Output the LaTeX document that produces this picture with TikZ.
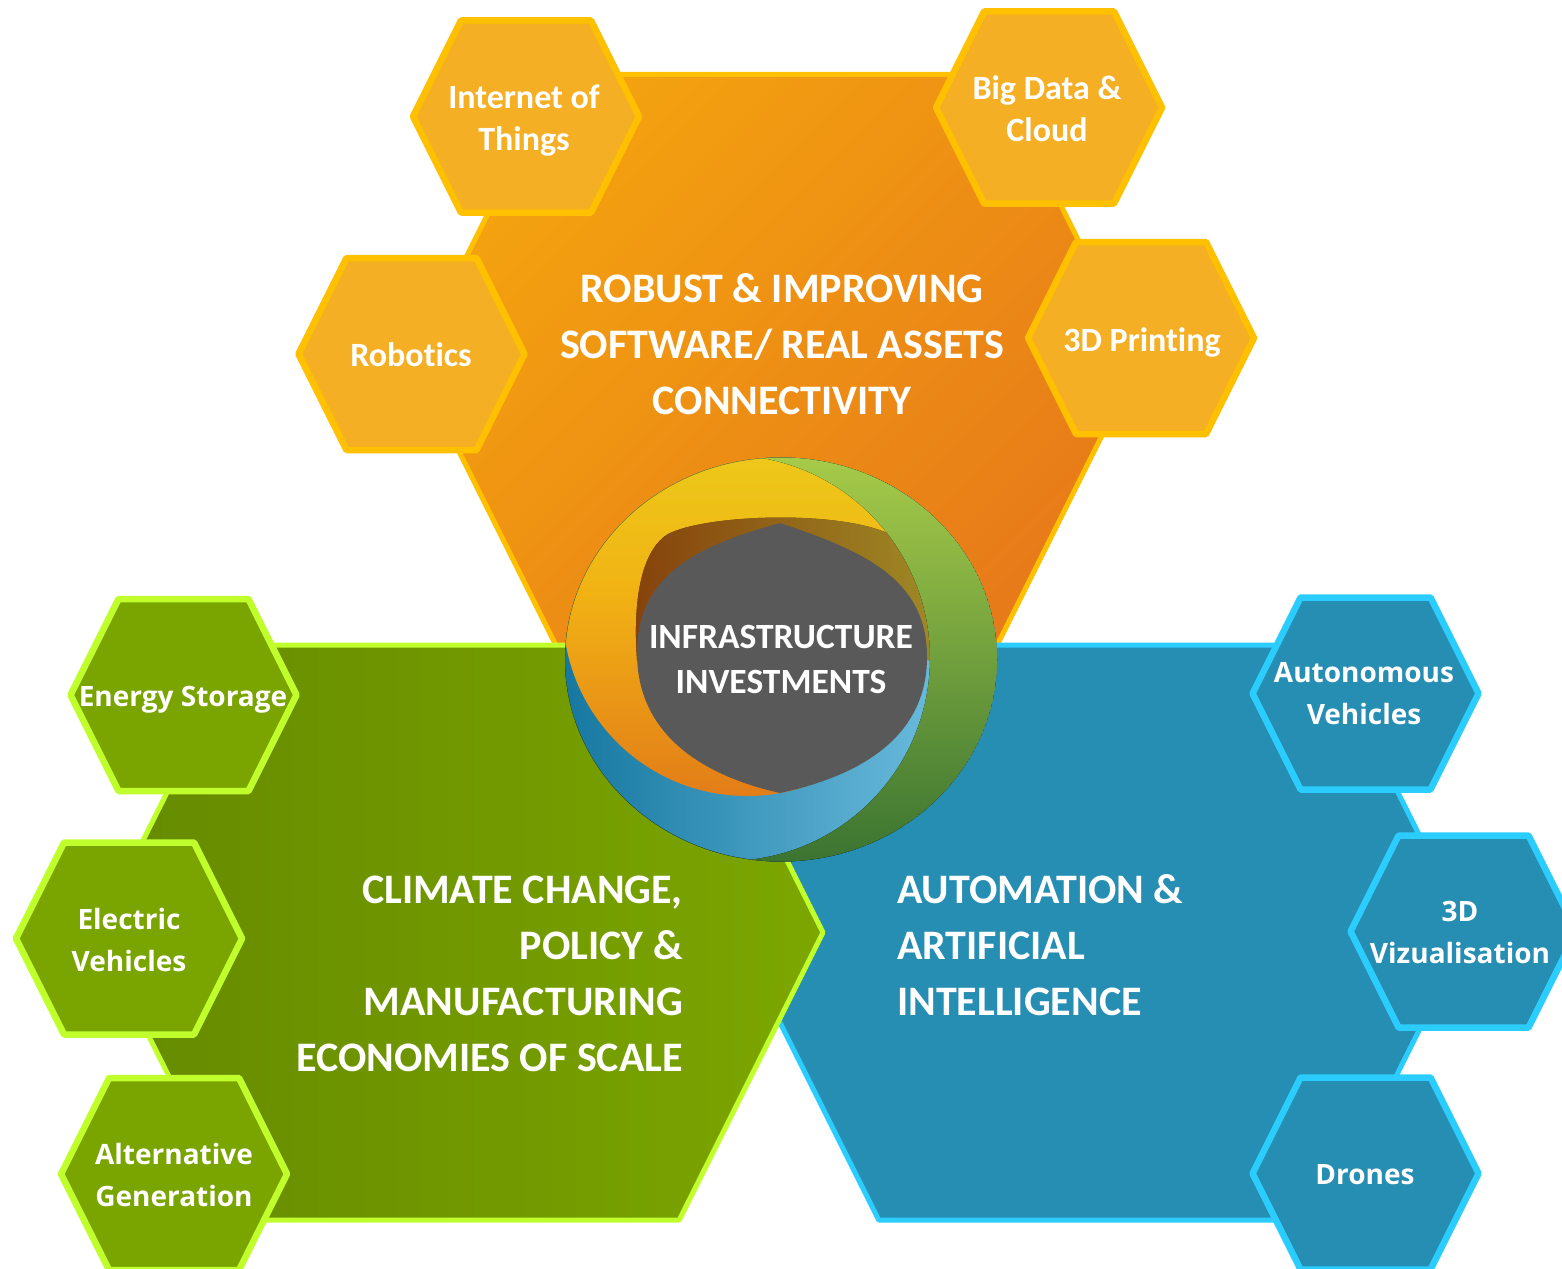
\documentclass[tikz,border=0pt]{standalone}
\usepackage{fontspec}
\setmainfont[Ligatures=NoCommon]{Carlito}
\newfontfamily\widesans{Open Sans}

% palette
\definecolor{orgsmall}{HTML}{F5AF25}
\definecolor{orgedge}{HTML}{FFC000}
\definecolor{orgtop}{HTML}{F4A30F}
\definecolor{orgbot}{HTML}{E77B19}
\definecolor{grnsmall}{HTML}{7AA500}
\definecolor{grnedge}{HTML}{C0FF2C}
\definecolor{grnleft}{HTML}{658A00}
\definecolor{grnright}{HTML}{7CA600}
\definecolor{bluefill}{HTML}{268DB3}
\definecolor{blueedge}{HTML}{2BCDFF}
\definecolor{hubgray}{HTML}{595959}
% ring colours
\definecolor{ringblueL}{HTML}{1577A0}
\definecolor{ringblueR}{HTML}{78C6E6}
\definecolor{ringyelT}{HTML}{EAD41C}
\definecolor{ringyelM}{HTML}{F1B314}
\definecolor{ringyelO}{HTML}{E27C18}
\definecolor{ringyelB}{HTML}{CC5E1A}
\definecolor{ringgrnT}{HTML}{A7CB49}
\definecolor{ringgrnM}{HTML}{93BE3E}
\definecolor{ringgrnB}{HTML}{3B7431}
\definecolor{shadeL}{HTML}{9C4A0E}
\definecolor{shadeR}{HTML}{BBA22E}

% yellow-to-orange band, bottom (0bp) to top (100bp)
\pgfdeclareverticalshading{yellowband}{100bp}{%
  color(0bp)=(ringyelB); color(25bp)=(ringyelO); color(55bp)=(ringyelM);
  color(85bp)=(ringyelT); color(100bp)=(ringyelT)}

% flat-topped hexagon: style, centre x, centre y, half width, half height
\newcommand{\hexagonat}[5]{%
  \path[#1] ({#2-#4},{#3}) -- ({#2-#4+0.5*#5},{#3-#5}) -- ({#2+#4-0.5*#5},{#3-#5})
    -- ({#2+#4},{#3}) -- ({#2+#4-0.5*#5},{#3+#5}) -- ({#2-#4+0.5*#5},{#3+#5}) -- cycle;}

\begin{document}
\begin{tikzpicture}[x=1pt,y=-1pt,
  bigorange/.style={top color=orgtop, bottom color=orgbot, shading angle=45,
    draw=orgedge, line width=5, line join=round},
  biggreen/.style={left color=grnleft, right color=grnright,
    draw=grnedge, line width=5, line join=round},
  bigblue/.style={fill=bluefill, draw=blueedge, line width=5, line join=round},
  orangecell/.style={fill=orgsmall, draw=orgedge, line width=6.5, line join=round},
  greencell/.style={fill=grnsmall, draw=grnedge, line width=6.5, line join=round},
  bluecell/.style={fill=bluefill, draw=blueedge, line width=6.5, line join=round},
  bigtxt/.style={text=white, inner sep=0pt, font=\fontsize{42}{56}\selectfont\bfseries},
  hubtxt/.style={text=white, inner sep=0pt, align=center,
    font=\fontsize{35.5}{45}\selectfont\bfseries},
  orgtxt/.style={text=white, inner sep=0pt, align=center,
    font=\fontsize{34}{42}\selectfont\bfseries},
  cooltxt/.style={text=white, inner sep=0pt, align=center,
    font=\widesans\fontsize{28}{42}\selectfont\bfseries},
]
\useasboundingbox[fill=white] (0,0) rectangle (1562,1268);

% ---- orange cluster ----
\hexagonat{bigorange}{776.5}{361.5}{362.5}{287}
\hexagonat{orangecell}{526}{116.5}{113}{96}
\hexagonat{orangecell}{1049}{107.5}{113}{96}
\hexagonat{orangecell}{411.5}{354}{113}{96}
\hexagonat{orangecell}{1141}{338}{113}{96}

% ---- blue and green clusters ----
\hexagonat{bigblue}{1101.5}{932.5}{366.5}{287.5}
\hexagonat{biggreen}{460}{932.5}{363}{287.5}

\hexagonat{bluecell}{1365.5}{693.5}{113}{96}
\hexagonat{bluecell}{1463.5}{931.5}{113}{96}
\hexagonat{bluecell}{1365.5}{1173.5}{113}{96}

\hexagonat{greencell}{183.5}{695}{113}{96}
\hexagonat{greencell}{129}{938.5}{113}{96}
\hexagonat{greencell}{174}{1174}{113}{96}

% ---- interlocking rings at the hub ----
\begin{scope}
  \clip (781,659.5) ellipse [x radius=216, y radius=202];
  % blue band (lower part)
  \fill[left color=ringblueL, right color=ringblueR] (560,450) rectangle (1000,870);
  % yellow-orange band
  \begin{scope}
    \clip (747,612) circle [radius=184];
    \shade[shading=yellowband] (560,450) rectangle (1000,800);
  \end{scope}
  % shadowed inner rim
  \fill[left color=shadeL, right color=shadeR, opacity=0.8]
    (637,660) .. controls (632,590) and (645,548) .. (668,534)
    .. controls (705,515) and (830,510) .. (885,532)
    .. controls (915,548) and (932,600) .. (932,660) -- cycle;
  % green band (right crescent)
  \fill[top color=ringgrnT, middle color=ringgrnM, bottom color=ringgrnB, even odd rule]
    (781,659.5) ellipse [x radius=216, y radius=202]
    (727,658) circle [radius=203];
  % grey core
  \fill[hubgray] (780,523) .. controls (700,545) and (637,573) .. (637,653)
    .. controls (637,733) and (700,775) .. (780,793)
    .. controls (860,776) and (927,737) .. (927,657)
    .. controls (927,577) and (860,550) .. (780,523) -- cycle;
\end{scope}

% ---- labels ----
\node[bigtxt, align=center] (software) at (782,344)
  {ROBUST \& IMPROVING\\SOFTWARE/ REAL ASSETS\\CONNECTIVITY};
\node[bigtxt, align=right, anchor=east] (climate) at (683,973.5)
  {CLIMATE CHANGE,\\POLICY \&\\MANUFACTURING\\ECONOMIES OF SCALE};
\node[bigtxt, align=left, anchor=west] (automation) at (897,945)
  {AUTOMATION \&\\ARTIFICIAL\\INTELLIGENCE};
\node[hubtxt] (hub) at (781,659.5) {INFRASTRUCTURE\\INVESTMENTS};

\node[orgtxt] (iot) at (524,121) {Internet of\\Things};
\node[orgtxt] (bigdata) at (1047,109) {Big Data \&\\Cloud};
\node[orgtxt] (robotics) at (411,355) {Robotics};
\node[orgtxt] (printing) at (1142,342) {3D Printing};

\node[cooltxt] (storage) at (183,700) {Energy Storage};
\node[cooltxt] (ev) at (129,940) {Electric\\Vehicles};
\node[cooltxt] (altgen) at (174,1175) {Alternative\\Generation};

\node[cooltxt] (autonomous) at (1364,694) {Autonomous\\Vehicles};
\node[cooltxt] (viz) at (1460,932) {3D\\Vizualisation};
\node[cooltxt] (drones) at (1365,1175) {Drones};
\end{tikzpicture}
\end{document}
